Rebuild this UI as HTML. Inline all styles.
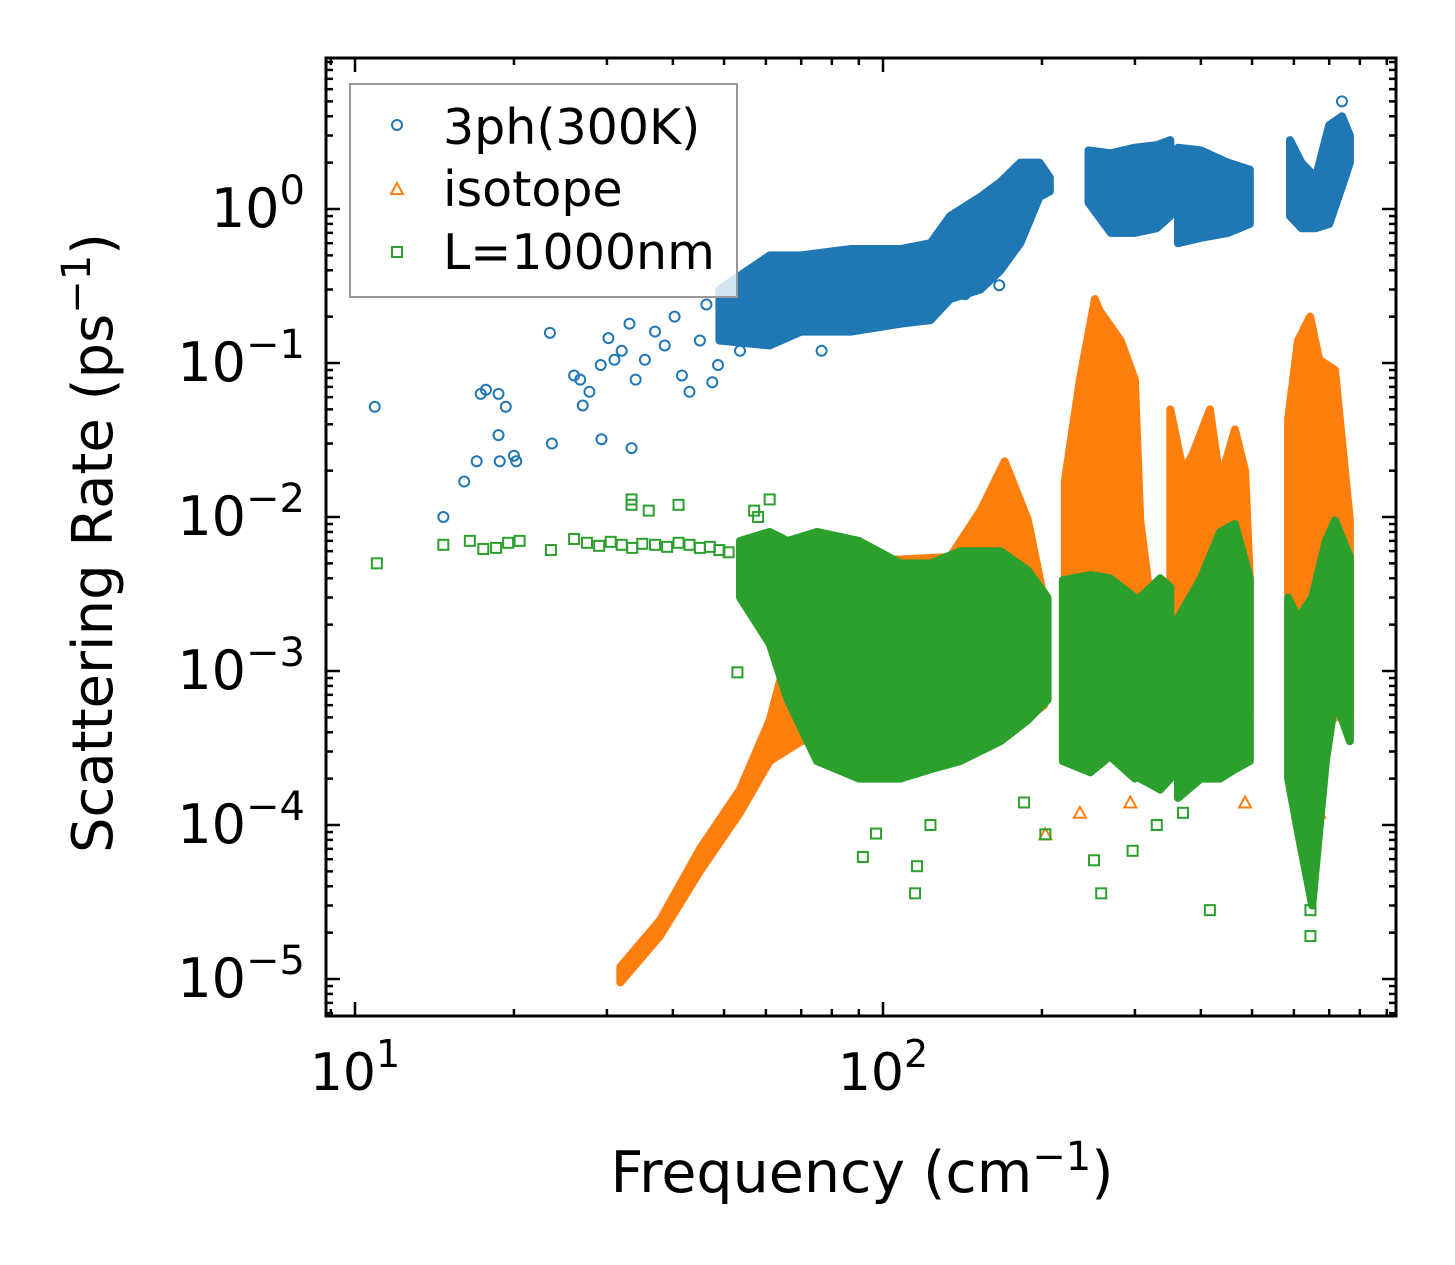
<!DOCTYPE html>
<html><head><meta charset="utf-8"><style>
html,body{margin:0;padding:0;background:#fff;}
svg{display:block;font-family:"DejaVu Sans","Liberation Sans",sans-serif;}
</style></head><body>
<svg id="chart" width="1455" height="1265" viewBox="0 0 1455 1265" xmlns="http://www.w3.org/2000/svg">
<rect width="1455" height="1265" fill="#fff"/>
<g id="plot"></g>
<g id="axes"></g>
<g id="legend">
<rect x="350" y="84" width="387" height="213" fill="#fff" fill-opacity="0.8" stroke="#999" stroke-width="2"/>
<circle cx="397" cy="125" r="5" fill="none" stroke="#1f77b4" stroke-width="2"/>
<text x="443" y="144" font-size="49">3ph(300K)</text>
<polygon points="397,183 403,194 391,194" fill="none" stroke="#ff7f0e" stroke-width="2"/>
<text x="443" y="206" font-size="49">isotope</text>
<rect x="392" y="247" width="10" height="10" fill="none" stroke="#2ca02c" stroke-width="2"/>
<text x="443" y="269" font-size="49">L=1000nm</text>
</g>
</svg>
<script>
// ---- data (frequency cm^-1, rate ps^-1) ----
const xTickValues=[10,100];
const xTickLabels=["1","2"];
const yTickValues=[1,0.1,0.01,0.001,0.0001,0.00001];
const yTickLabels=["0","\u22121","\u22122","\u22123","\u22124","\u22125"];
// dense cloud envelopes: [freq, low, high]
const phBands=[
 [[49,0.14,0.30],[61,0.13,0.5],[70,0.16,0.5],[87,0.16,0.55],[108,0.18,0.55],[123,0.19,0.6],[134,0.26,0.9],[153,0.3,1.2],[167,0.4,1.5],[182,0.6,2.0],[198,1.2,2.0],[207,1.3,1.6]],
 [[245,1.1,2.4],[270,0.7,2.3],[300,0.7,2.5],[330,0.75,2.6],[350,0.9,2.8]],
 [[362,0.6,2.5],[400,0.65,2.4],[450,0.7,2.0],[495,0.8,1.8]],
 [[590,0.9,2.8],[620,0.75,2.0],[660,0.75,1.6],[700,0.8,3.5],[740,1.4,4],[766,2,3]]
];
const phFreq=[10.9,14.7,16.1,17.0,17.3,17.7,18.7,18.7,18.8,19.3,20.0,20.2,23.4,23.6,26.0,26.7,27.0,27.8,29.2,29.3,30.2,31.0,32.0,33.1,33.4,34.0,35.4,37,38.6,40.3,41.6,43,45,46.3,47.5,48.7,50.9,53.6,55.5,58.4,62.4,66.6,76.5,90.4,143,166,740];
const phRate=[0.052,0.010,0.017,0.023,0.063,0.067,0.063,0.034,0.023,0.052,0.025,0.023,0.157,0.030,0.083,0.078,0.053,0.065,0.097,0.032,0.145,0.105,0.12,0.18,0.028,0.078,0.105,0.16,0.13,0.2,0.083,0.065,0.14,0.24,0.075,0.097,0.16,0.12,0.26,0.16,0.26,0.30,0.12,0.47,0.28,0.32,5.0];
const isoBands=[
 [[31.8,9.5e-6,1.2e-5],[37.8,1.9e-5,2.4e-5],[45,5e-5,7e-5],[53.6,1.2e-4,1.7e-4],[61,2.6e-4,4.8e-4],[70,3.5e-4,2.9e-3],[87,4e-4,5.3e-3],[108,4e-4,5.3e-3],[134,5e-4,5.5e-3],[153,5e-4,1.1e-2],[170,5e-4,2.3e-2],[188,5e-4,9.6e-3],[202,6e-4,2.9e-3]],
 [[221,5e-4,1.7e-2],[236,5e-4,0.078],[252,5e-4,0.26],[257,5e-4,0.22],[282,5e-4,0.14],[300,5e-4,0.078],[307,5e-4,0.0095],[319,5e-4,3.4e-3]],
 [[350,5e-4,0.05],[370,5e-4,0.02],[385,5e-4,0.025],[416,5e-4,0.05],[435,5e-4,0.017],[464,5e-4,0.037],[485,5e-4,0.02],[495,5e-4,4e-3]],
 [[585,5e-4,0.043],[611,5e-4,0.14],[644,5e-4,0.2],[670,5e-4,0.105],[718,5e-4,0.09],[766,5e-4,0.0095]]
];
const isoFreq=[203,236,294,485,670,160,120,95];
const isoRate=[8.7e-5,1.2e-4,1.4e-4,1.4e-4,1.2e-4,4e-4,3.5e-4,3e-4];
const bdBands=[
 [[53.6,3e-3,7e-3],[61,1.5e-3,8e-3],[66,6.5e-4,7e-3],[75,2.6e-4,8e-3],[90,2e-4,7e-3],[108,2e-4,5e-3],[123,2.3e-4,5e-3],[140,2.6e-4,6e-3],[167,3.5e-4,6e-3],[188,4.8e-4,4.5e-3],[205,6.5e-4,3e-3]],
 [[219,2.6e-4,3.9e-3],[247,2.2e-4,4.2e-3],[269,2.8e-4,4e-3],[300,2e-4,3e-3]],
 [[307,2e-4,3e-3],[335,1.7e-4,4e-3],[350,2e-4,3.5e-3]],
 [[362,1.5e-4,2.2e-3],[400,2e-4,4e-3],[435,2e-4,8e-3],[464,2.3e-4,9e-3],[495,2.6e-4,4e-3]],
 [[585,2e-4,3e-3],[611,9e-5,2.2e-3],[650,3e-5,3e-3],[690,2.6e-4,7e-3],[718,6.5e-4,9.5e-3],[766,3.5e-4,5.5e-3]]
];
const bdFreq=[11,14.7,16.5,17.5,18.5,19.5,20.5,23.5,26,27.5,29,30.5,32,33.5,35,37,39,41,43,45,47,49,51,33.4,33.4,41,36,61,53,91.6,97,115,116,123,203,251,259,297,416,645,645,640,330,370,185,58,57];
const bdRate=[5e-3,6.6e-3,7e-3,6.2e-3,6.3e-3,6.8e-3,7e-3,6.1e-3,7.2e-3,6.8e-3,6.5e-3,6.9e-3,6.6e-3,6.3e-3,6.7e-3,6.6e-3,6.4e-3,6.8e-3,6.6e-3,6.3e-3,6.4e-3,6.1e-3,5.9e-3,0.013,0.012,0.012,0.011,0.013,9.8e-4,6.2e-5,8.8e-5,3.6e-5,5.4e-5,1e-4,8.7e-5,5.9e-5,3.6e-5,6.8e-5,2.8e-5,1.9e-5,2.8e-5,5e-5,1e-4,1.2e-4,1.4e-4,1e-2,1.1e-2];

// ---- scales ----
const X0=355, XDEC=528, Y0=209, YDEC=154;
const L=326,R=1396,T=58,B=1016;
const sx=f=>X0+(Math.log10(f)-1)*XDEC;
const sy=r=>Y0-Math.log10(r)*YDEC;
const NS="http://www.w3.org/2000/svg";
const plot=document.getElementById('plot');
const axes=document.getElementById('axes');
function mk(tag,attrs,parent){const e=document.createElementNS(NS,tag);for(const k in attrs)e.setAttribute(k,attrs[k]);parent.appendChild(e);return e;}
const colors={ph:"#1f77b4",iso:"#ff7f0e",bd:"#2ca02c"};
function drawBands(bands,color,name){
 bands.forEach((b,i)=>{
  const up=b.map(p=>sx(p[0]).toFixed(1)+","+sy(p[2]).toFixed(1));
  const lo=b.slice().reverse().map(p=>sx(p[0]).toFixed(1)+","+sy(p[1]).toFixed(1));
  const pg=mk('polygon',{points:up.concat(lo).join(' '),fill:color,stroke:color,'stroke-width':8,'stroke-linejoin':'round'},plot);
  
  
 });
}
function drawPoints(fs,rs,color,shape,name){
 fs.forEach((f,i)=>{
  const x=sx(f),y=sy(rs[i]);let e;
  if(shape==='c')e=mk('circle',{cx:x,cy:y,r:5,fill:'none',stroke:color,'stroke-width':2},plot);
  else if(shape==='t')e=mk('polygon',{points:`${x},${y-6} ${x+6},${y+5} ${x-6},${y+5}`,fill:'none',stroke:color,'stroke-width':2},plot);
  else e=mk('rect',{x:x-5,y:y-5,width:10,height:10,fill:'none',stroke:color,'stroke-width':2},plot);
  
  
 });
}
drawBands(phBands,colors.ph,'3ph');
drawPoints(phFreq,phRate,colors.ph,'c','3ph');
drawBands(isoBands,colors.iso,'isotope');
drawPoints(isoFreq,isoRate,colors.iso,'t','isotope');
drawBands(bdBands,colors.bd,'boundary');
drawPoints(bdFreq,bdRate,colors.bd,'s','boundary');

// ---- axes frame & ticks ----
const fr=mk('rect',{x:L,y:T,width:R-L,height:B-T,fill:'none',stroke:'#000','stroke-width':3},axes);


function tickX(x,len){mk('line',{x1:x,y1:B,x2:x,y2:B-len,stroke:'#000','stroke-width':2.5},axes);mk('line',{x1:x,y1:T,x2:x,y2:T+len,stroke:'#000','stroke-width':2.5},axes);}
function tickY(y,len){mk('line',{x1:L,y1:y,x2:L+len,y2:y,stroke:'#000','stroke-width':2.5},axes);mk('line',{x1:R,y1:y,x2:R-len,y2:y,stroke:'#000','stroke-width':2.5},axes);}
for(let d=0;d<=2;d++)for(let m=1;m<10;m++){const v=m*Math.pow(10,d);const x=sx(v);if(x<L||x>R)continue;tickX(x,m===1?14:7);}
for(let d=-6;d<=1;d++)for(let m=1;m<10;m++){const v=m*Math.pow(10,d);const y=sy(v);if(y<T||y>B)continue;tickY(y,m===1?14:7);}
xTickValues.forEach((v,i)=>{
 const t=mk('text',{x:sx(v),y:1090,'font-size':52,'text-anchor':'middle'},axes);
 t.innerHTML='10<tspan font-size="38" dy="-23">'+xTickLabels[i]+'</tspan>';
 
 
});
yTickValues.forEach((v,i)=>{
 const t=mk('text',{x:305,y:sy(v)+18,'font-size':54,'text-anchor':'end'},axes);
 t.innerHTML='10<tspan font-size="40" dy="-23">'+yTickLabels[i]+'</tspan>';
 
 
});
const xt=mk('text',{x:862,y:1192,'font-size':57,'text-anchor':'middle'},axes);
xt.innerHTML='Frequency (cm<tspan font-size="40" dy="-22">\u22121</tspan><tspan dy="22">)</tspan>';


const yt=mk('text',{x:0,y:0,'font-size':56,'text-anchor':'middle',transform:'translate(112,543) rotate(-90)'},axes);
yt.innerHTML='Scattering Rate (ps<tspan font-size="40" dy="-22">\u22121</tspan><tspan dy="22">)</tspan>';


</script>
</body></html>
